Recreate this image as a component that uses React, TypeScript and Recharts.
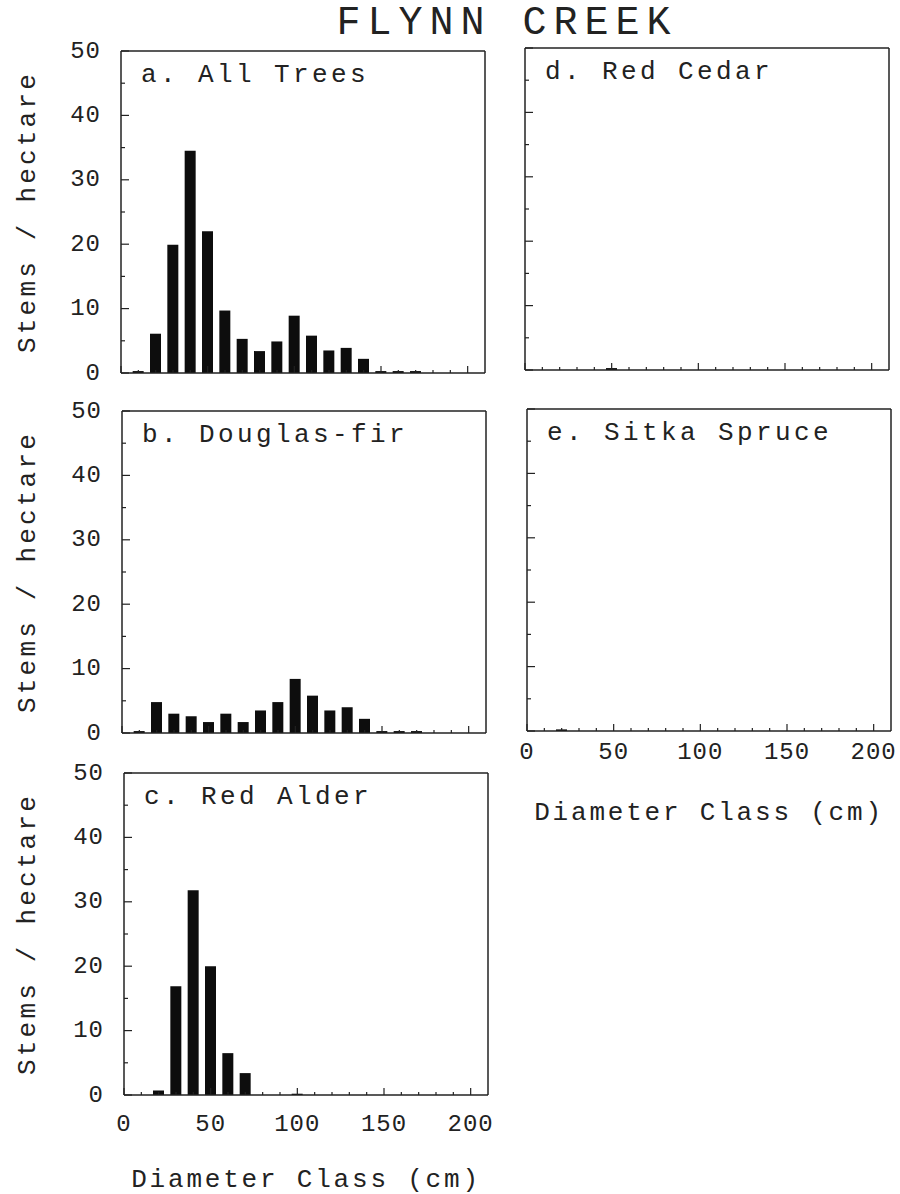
import React from "react";
import { BarChart, Bar, XAxis, YAxis } from "recharts";

// diameter class midpoints (cm)
const diameterClass = [10, 20, 30, 40, 50, 60, 70, 80, 90, 100, 110, 120, 130, 140, 150, 160, 170, 180, 190, 200];

// stems / hectare per class
const allTrees = [0.3, 6.1, 19.9, 34.5, 22.0, 9.7, 5.3, 3.4, 4.9, 8.9, 5.8, 3.5, 3.9, 2.2, 0.3, 0.3, 0.3, 0, 0, 0];
const douglasFir = [0.3, 4.8, 3.0, 2.6, 1.7, 3.0, 1.7, 3.5, 4.8, 8.4, 5.8, 3.5, 4.0, 2.2, 0.3, 0.3, 0.3, 0, 0, 0];
const redAlder = [0, 0.7, 16.9, 31.8, 20.0, 6.5, 3.4, 0, 0, 0.2, 0, 0, 0, 0, 0, 0, 0, 0, 0, 0];
const redCedar = [0, 0, 0, 0, 0.3, 0, 0, 0, 0, 0, 0, 0, 0, 0, 0, 0, 0, 0, 0, 0];
const sitkaSpruce = [0, 0.25, 0, 0, 0, 0, 0, 0, 0, 0, 0, 0, 0, 0, 0, 0, 0, 0, 0, 0];

const xTicks = [0, 10, 20, 30, 40, 50, 60, 70, 80, 90, 100, 110, 120, 130, 140, 150, 160, 170, 180, 190, 200];
const yTicks = [0, 5, 10, 15, 20, 25, 30, 35, 40, 45, 50];

const FONT = '"Liberation Mono", "DejaVu Sans Mono", monospace';
const INK = "#222";
const PW = 364;
const PH = 322;
const M = { top: 16, right: 5, bottom: 55, left: 105 };

function XTick(props: any) {
  const { x, y, payload, labelOffset } = props;
  const v = payload.value;
  const major = v % 50 === 0;
  return (
    <g>
      <line x1={x} x2={x} y1={y} y2={y - (major ? 7 : 3)} stroke={INK} strokeWidth={1.2} />
      {labelOffset && major ? (
        <text x={x} y={y + labelOffset} textAnchor="middle" dominantBaseline="central"
          fontFamily={FONT} fontSize={24} letterSpacing={1} fill={INK}>{v}</text>
      ) : null}
    </g>
  );
}

function YTick(props: any) {
  const { x, y, payload, side, showLabel } = props;
  const v = payload.value;
  const major = v % 10 === 0;
  const len = major ? 8 : 4;
  const dir = side === "left" ? 1 : -1;
  return (
    <g>
      <line x1={x} x2={x + dir * len} y1={y} y2={y} stroke={INK} strokeWidth={1.2} />
      {showLabel && major ? (
        <text x={x - 20} y={y} textAnchor="end" dominantBaseline="central"
          fontFamily={FONT} fontSize={24} letterSpacing={1} fill={INK}>{v}</text>
      ) : null}
    </g>
  );
}

type PanelProps = {
  title: string;
  values: number[];
  left: number;
  top: number;
  yTitle?: boolean;
  xLabelOffset?: number;
  xTitleOffset?: number;
};

function Panel({ title, values, left, top, yTitle, xLabelOffset, xTitleOffset }: PanelProps) {
  const data = diameterClass.map((d, i) => ({ d, v: values[i] }));
  const line = { stroke: INK, strokeWidth: 1.5 };
  return (
    <>
      <div style={{ position: "absolute", left: left - M.left - 1, top: top - M.top - 1 }}>
        <BarChart width={PW + M.left + M.right + 2} height={PH + M.top + M.bottom + 2}
          data={data} margin={M} barSize={11}>
          <XAxis xAxisId="b" dataKey="d" type="number" domain={[0, 210]} ticks={xTicks} interval={0}
            height={1} tickLine={false} tickSize={0} tickMargin={0} axisLine={line}
            tick={<XTick labelOffset={xLabelOffset} />} />
          <XAxis xAxisId="t" dataKey="d" orientation="top" type="number" domain={[0, 210]}
            height={1} tick={false} tickLine={false} axisLine={line} />
          <YAxis yAxisId="l" type="number" domain={[0, 50]} ticks={yTicks} interval={0}
            width={1} tickLine={false} tickSize={0} tickMargin={0} axisLine={line}
            tick={<YTick side="left" showLabel={yTitle} />} />
          <YAxis yAxisId="r" orientation="right" type="number" domain={[0, 50]} ticks={yTicks} interval={0}
            width={1} tickLine={false} tickSize={0} tickMargin={0} axisLine={line}
            tick={<YTick side="right" />} />
          <Bar xAxisId="b" yAxisId="l" dataKey="v" fill="#0d0d0d" isAnimationActive={false} />
        </BarChart>
      </div>
      <div style={{ position: "absolute", left: left + 20, top: top + 11, fontFamily: FONT,
        fontSize: 26, lineHeight: "26px", letterSpacing: 3.4, color: INK, whiteSpace: "nowrap" }}>
        {title}
      </div>
      {yTitle ? (
        <div style={{ position: "absolute", left: 28, top: top + PH / 2, fontFamily: FONT, fontSize: 26,
          letterSpacing: 3.2, color: INK, whiteSpace: "nowrap", lineHeight: "26px",
          transform: "translate(-50%, -50%) rotate(-90deg)" }}>
          Stems / hectare
        </div>
      ) : null}
      {xTitleOffset ? (
        <div style={{ position: "absolute", left: left + PW / 2, top: top + PH + xTitleOffset, fontFamily: FONT,
          fontSize: 26, letterSpacing: 2.8, color: INK, whiteSpace: "nowrap", lineHeight: "22px",
          transform: "translate(-50%, -50%)" }}>
          Diameter Class (cm)
        </div>
      ) : null}
    </>
  );
}

export default function App() {
  return (
    <div style={{ position: "absolute", left: 0, top: 0, width: 900, height: 1194, background: "#fff" }}>
      <div style={{ position: "absolute", left: 507, top: 24, transform: "translate(-50%, -50%)",
        fontFamily: FONT, fontSize: 40, letterSpacing: 7, color: INK, whiteSpace: "nowrap", lineHeight: "40px" }}>
        FLYNN CREEK
      </div>
      <Panel title="a. All Trees" values={allTrees} left={121} top={51} yTitle />
      <Panel title="b. Douglas-fir" values={douglasFir} left={122} top={411} yTitle />
      <Panel title="c. Red Alder" values={redAlder} left={124} top={773} yTitle xLabelOffset={29} xTitleOffset={85} />
      <Panel title="d. Red Cedar" values={redCedar} left={525} top={48} />
      <Panel title="e. Sitka Spruce" values={sitkaSpruce} left={527} top={409} xLabelOffset={21} xTitleOffset={82} />
    </div>
  );
}
